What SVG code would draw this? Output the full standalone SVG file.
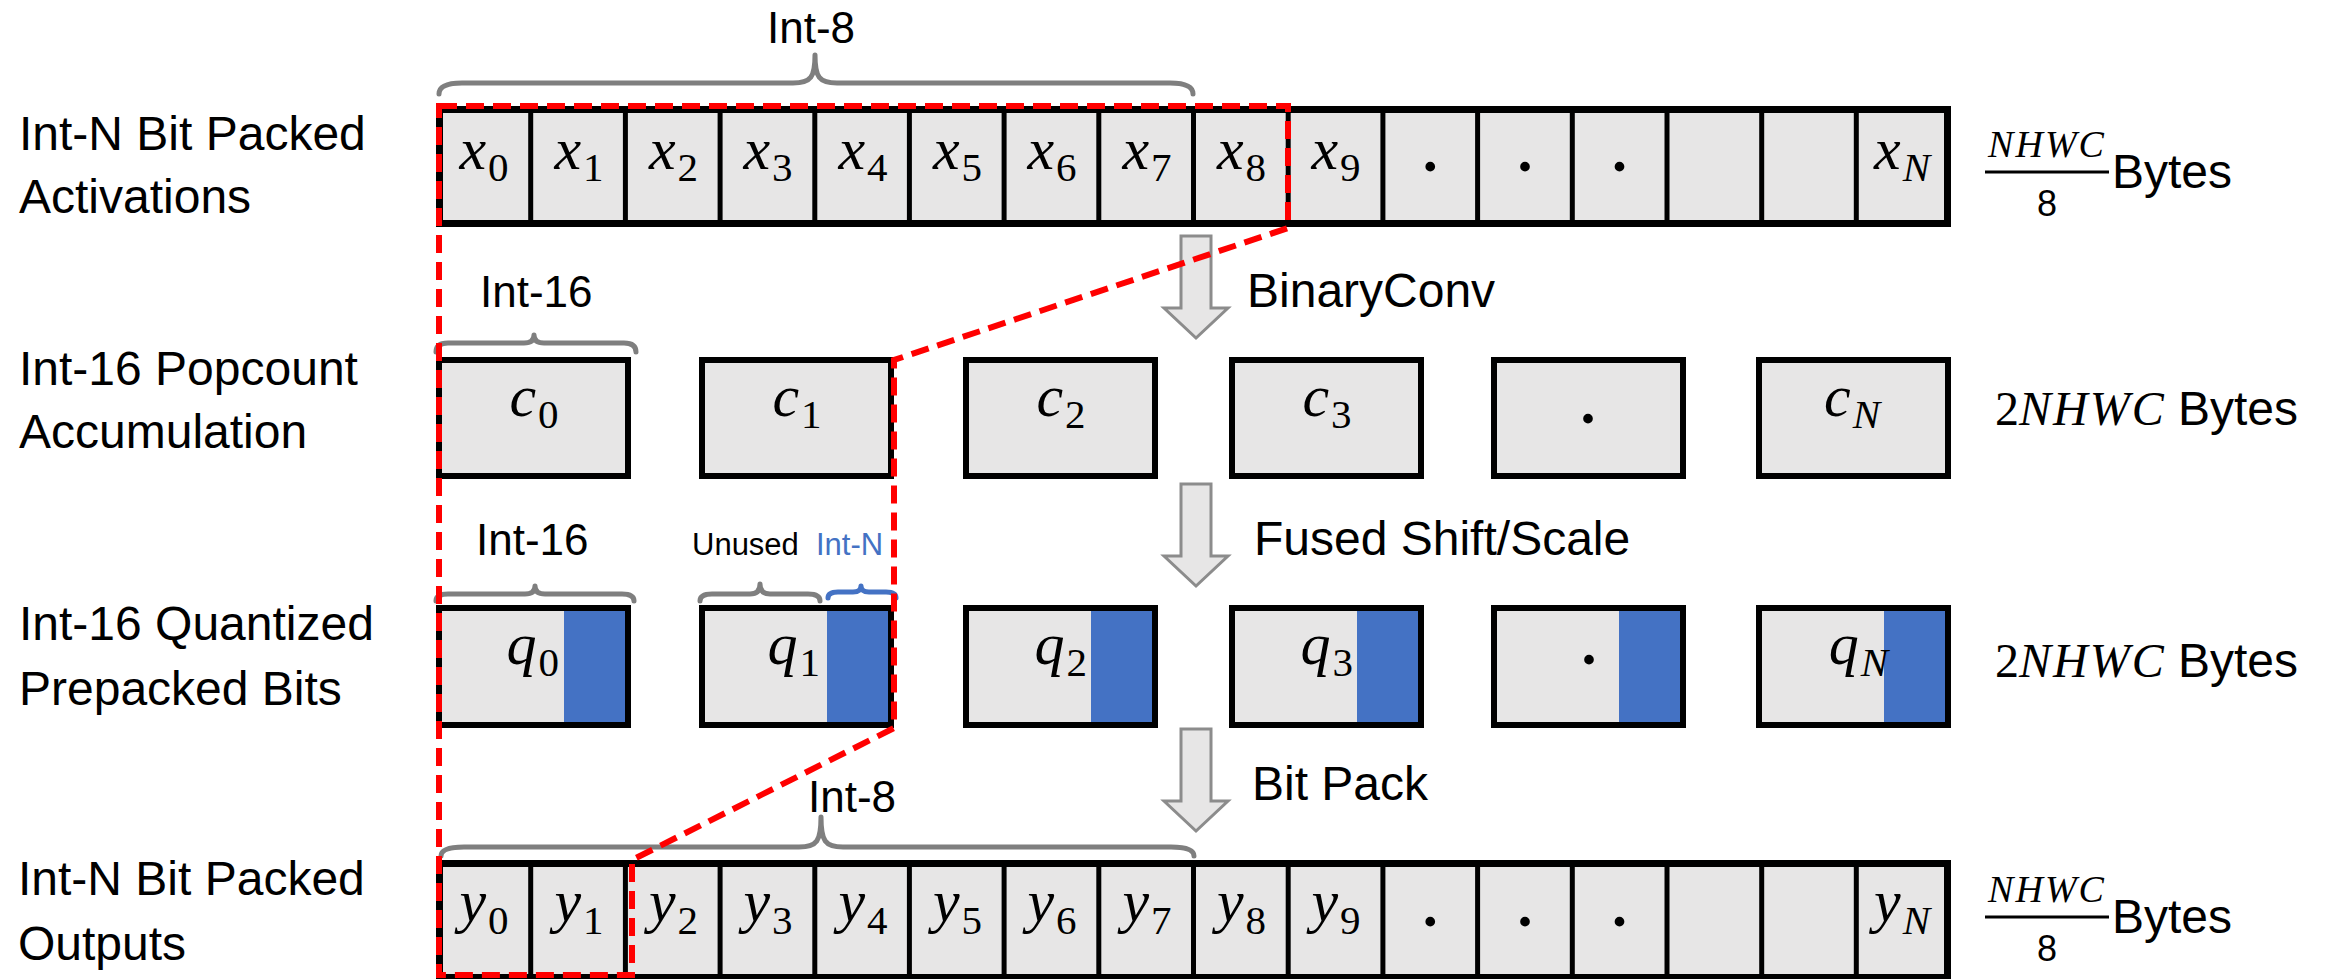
<svg xmlns="http://www.w3.org/2000/svg" width="2352" height="979" viewBox="0 0 2352 979">
<style>
.lbl{font-family:"Liberation Sans",Arial,sans-serif;font-size:48px;fill:#000}
.br{font-family:"Liberation Sans",Arial,sans-serif;font-size:44px;fill:#000}
.sm{font-family:"Liberation Sans",Arial,sans-serif;font-size:31px;fill:#000}
.m{font-family:"Liberation Serif","Times New Roman",serif;font-style:italic;font-size:60px;fill:#000}
.sub{font-size:41px;font-style:normal}
.subi{font-size:41px;font-style:italic}
.dot{font-family:"Liberation Serif",serif;font-size:60px;font-weight:bold;fill:#000}
.bar{fill:#E7E6E6;stroke:#000;stroke-width:7}
.div{stroke:#000;stroke-width:5}
.box{fill:#E7E6E6;stroke:none}
.boxs{fill:none;stroke:#000;stroke-width:6}
.blue{fill:#4472C4}
.brace{fill:none;stroke:#7F7F7F;stroke-width:5;stroke-linecap:round;stroke-linejoin:round}
.braceb{fill:none;stroke:#4472C4;stroke-width:5;stroke-linecap:round;stroke-linejoin:round}
.arrow{fill:#E7E6E6;stroke:#8C8C8C;stroke-width:3}
.red{fill:none;stroke:#FF0000;stroke-width:6;stroke-dasharray:18 9}
.fr{font-family:"Liberation Serif",serif;font-style:italic;font-size:38px;letter-spacing:2px}
.frd{font-family:"Liberation Sans",Arial,sans-serif;font-size:36px}
.mm{font-family:"Liberation Serif",serif;font-size:48px}
</style>
<defs>
<path id="arr" d="M-15,0 H15 V72 H32 L0,102 L-32,72 H-15 Z"/>
</defs>

<!-- Row 1: activations -->
<g id="row-activations">
<text class="lbl" x="19" y="150">Int-N Bit Packed</text>
<text class="lbl" x="19" y="213">Activations</text>
<rect class="bar" x="439.5" y="109.5" width="1508" height="114"/>
<g class="div">
<line x1="530.7" y1="110" x2="530.7" y2="223"/><line x1="625.4" y1="110" x2="625.4" y2="223"/>
<line x1="720.1" y1="110" x2="720.1" y2="223"/><line x1="814.8" y1="110" x2="814.8" y2="223"/>
<line x1="909.4" y1="110" x2="909.4" y2="223"/><line x1="1004.1" y1="110" x2="1004.1" y2="223"/>
<line x1="1098.8" y1="110" x2="1098.8" y2="223"/><line x1="1193.5" y1="110" x2="1193.5" y2="223"/>
<line x1="1288.2" y1="110" x2="1288.2" y2="223"/><line x1="1382.9" y1="110" x2="1382.9" y2="223"/>
<line x1="1477.6" y1="110" x2="1477.6" y2="223"/><line x1="1572.3" y1="110" x2="1572.3" y2="223"/>
<line x1="1667" y1="110" x2="1667" y2="223"/><line x1="1761.7" y1="110" x2="1761.7" y2="223"/>
<line x1="1856.3" y1="110" x2="1856.3" y2="223"/>
</g>
<g class="m" text-anchor="middle">
<text x="484" y="169">x<tspan class="sub" dx="2" dy="12">0</tspan></text>
<text x="579" y="169">x<tspan class="sub" dx="2" dy="12">1</tspan></text>
<text x="673.5" y="169">x<tspan class="sub" dx="2" dy="12">2</tspan></text>
<text x="768" y="169">x<tspan class="sub" dx="2" dy="12">3</tspan></text>
<text x="863" y="169">x<tspan class="sub" dx="2" dy="12">4</tspan></text>
<text x="957.5" y="169">x<tspan class="sub" dx="2" dy="12">5</tspan></text>
<text x="1052" y="169">x<tspan class="sub" dx="2" dy="12">6</tspan></text>
<text x="1147" y="169">x<tspan class="sub" dx="2" dy="12">7</tspan></text>
<text x="1241.5" y="169">x<tspan class="sub" dx="2" dy="12">8</tspan></text>
<text x="1336" y="169">x<tspan class="sub" dx="2" dy="12">9</tspan></text>
<text x="1902" y="169">x<tspan class="subi" dx="2" dy="12">N</tspan></text>
</g>
<g class="dot" text-anchor="middle">
<text x="1430.2" y="171">.</text><text x="1524.9" y="171">.</text><text x="1619.6" y="171">.</text>
</g>
<path class="brace" d="M439,94 Q439,83 462,83 L793,83 C811,83 815,77 815,55 C815,77 819,83 837,83 L1170,83 Q1193,83 1193,94"/>
<text class="br" x="767" y="43">Int-8</text>
<text class="fr" x="2047" y="157" text-anchor="middle">NHWC</text>
<line x1="1985" y1="172" x2="2109" y2="172" stroke="#000" stroke-width="3"/>
<text class="frd" x="2047" y="216" text-anchor="middle">8</text>
<text class="lbl" x="2112" y="188">Bytes</text>
</g>

<!-- Row 2: popcount -->
<g id="row-popcount">
<text class="lbl" x="19" y="385">Int-16 Popcount</text>
<text class="lbl" x="19" y="448">Accumulation</text>
<g>
<rect class="box" x="439" y="360" width="189" height="116"/>
<rect class="box" x="702" y="360" width="189" height="116"/>
<rect class="box" x="966" y="360" width="189" height="116"/>
<rect class="box" x="1232" y="360" width="189" height="116"/>
<rect class="box" x="1494" y="360" width="189" height="116"/>
<rect class="box" x="1759" y="360" width="189" height="116"/>
<rect class="boxs" x="439" y="360" width="189" height="116"/>
<rect class="boxs" x="702" y="360" width="189" height="116"/>
<rect class="boxs" x="966" y="360" width="189" height="116"/>
<rect class="boxs" x="1232" y="360" width="189" height="116"/>
<rect class="boxs" x="1494" y="360" width="189" height="116"/>
<rect class="boxs" x="1759" y="360" width="189" height="116"/>
</g>
<g class="m" text-anchor="middle">
<text x="534" y="416">c<tspan class="sub" dx="2" dy="12">0</tspan></text>
<text x="797" y="416">c<tspan class="sub" dx="2" dy="12">1</tspan></text>
<text x="1061" y="416">c<tspan class="sub" dx="2" dy="12">2</tspan></text>
<text x="1327" y="416">c<tspan class="sub" dx="2" dy="12">3</tspan></text>
<text x="1852" y="416">c<tspan class="subi" dx="2" dy="12">N</tspan></text>
</g>
<text class="dot" x="1588" y="423" text-anchor="middle">.</text>
<path class="brace" d="M436,352 Q436,343 448,343 L524,343 Q534,343 534,335 Q534,343 544,343 L624,343 Q636,343 636,352"/>
<text class="br" x="480" y="307">Int-16</text>
<text class="mm" x="1995" y="425">2<tspan font-style="italic" letter-spacing="2">NHWC</tspan></text>
<text class="lbl" x="2178" y="425">Bytes</text>
</g>

<!-- Row 3: quantized -->
<g id="row-quantized">
<text class="lbl" x="19" y="640">Int-16 Quantized</text>
<text class="lbl" x="19" y="705">Prepacked Bits</text>
<g>
<rect class="box" x="439" y="608" width="189" height="117"/>
<rect class="box" x="702" y="608" width="189" height="117"/>
<rect class="box" x="966" y="608" width="189" height="117"/>
<rect class="box" x="1232" y="608" width="189" height="117"/>
<rect class="box" x="1494" y="608" width="189" height="117"/>
<rect class="box" x="1759" y="608" width="189" height="117"/>
<rect class="blue" x="564" y="611" width="64" height="114"/>
<rect class="blue" x="827" y="611" width="64" height="114"/>
<rect class="blue" x="1091" y="611" width="64" height="114"/>
<rect class="blue" x="1357" y="611" width="64" height="114"/>
<rect class="blue" x="1619" y="611" width="64" height="114"/>
<rect class="blue" x="1884" y="611" width="64" height="114"/>
<rect class="boxs" x="439" y="608" width="189" height="117"/>
<rect class="boxs" x="702" y="608" width="189" height="117"/>
<rect class="boxs" x="966" y="608" width="189" height="117"/>
<rect class="boxs" x="1232" y="608" width="189" height="117"/>
<rect class="boxs" x="1494" y="608" width="189" height="117"/>
<rect class="boxs" x="1759" y="608" width="189" height="117"/>
</g>
<g class="m" text-anchor="end">
<text x="559" y="664">q<tspan class="sub" dx="2" dy="12">0</tspan></text>
<text x="820" y="664">q<tspan class="sub" dx="2" dy="12">1</tspan></text>
<text x="1087" y="664">q<tspan class="sub" dx="2" dy="12">2</tspan></text>
<text x="1353" y="664">q<tspan class="sub" dx="2" dy="12">3</tspan></text>
<text x="1888" y="664">q<tspan class="subi" dx="2" dy="12">N</tspan></text>
</g>
<text class="dot" x="1589" y="664" text-anchor="middle">.</text>
<path class="brace" d="M436,601 Q436,594 448,594 L525,594 Q535,594 535,586 Q535,594 545,594 L622,594 Q634,594 634,601"/>
<path class="brace" d="M700,601 Q700,594 712,594 L750,594 Q760,594 760,584 Q760,594 770,594 L808,594 Q820,594 820,601"/>
<path class="braceb" d="M828,598 Q828,592 838,592 L853,592 Q861,592 861,586 Q861,592 869,592 L886,592 Q896,592 896,598"/>
<text class="br" x="476" y="555">Int-16</text>
<text class="sm" x="692" y="555">Unused</text>
<text class="sm" x="816" y="555" style="fill:#4472C4">Int-N</text>
<text class="mm" x="1995" y="677">2<tspan font-style="italic" letter-spacing="2">NHWC</tspan></text>
<text class="lbl" x="2178" y="677">Bytes</text>
</g>

<!-- Row 4: outputs -->
<g id="row-outputs">
<text class="lbl" x="18" y="895">Int-N Bit Packed</text>
<text class="lbl" x="18" y="960">Outputs</text>
<rect class="bar" x="439.5" y="863.5" width="1508" height="114"/>
<g class="div">
<line x1="530.7" y1="864" x2="530.7" y2="979"/><line x1="625.4" y1="864" x2="625.4" y2="979"/>
<line x1="720.1" y1="864" x2="720.1" y2="979"/><line x1="814.8" y1="864" x2="814.8" y2="979"/>
<line x1="909.4" y1="864" x2="909.4" y2="979"/><line x1="1004.1" y1="864" x2="1004.1" y2="979"/>
<line x1="1098.8" y1="864" x2="1098.8" y2="979"/><line x1="1193.5" y1="864" x2="1193.5" y2="979"/>
<line x1="1288.2" y1="864" x2="1288.2" y2="979"/><line x1="1382.9" y1="864" x2="1382.9" y2="979"/>
<line x1="1477.6" y1="864" x2="1477.6" y2="979"/><line x1="1572.3" y1="864" x2="1572.3" y2="979"/>
<line x1="1667" y1="864" x2="1667" y2="979"/><line x1="1761.7" y1="864" x2="1761.7" y2="979"/>
<line x1="1856.3" y1="864" x2="1856.3" y2="979"/>
</g>
<g class="m" text-anchor="middle">
<text x="484" y="921">y<tspan class="sub" dx="2" dy="13">0</tspan></text>
<text x="579" y="921">y<tspan class="sub" dx="2" dy="13">1</tspan></text>
<text x="673.5" y="921">y<tspan class="sub" dx="2" dy="13">2</tspan></text>
<text x="768" y="921">y<tspan class="sub" dx="2" dy="13">3</tspan></text>
<text x="863" y="921">y<tspan class="sub" dx="2" dy="13">4</tspan></text>
<text x="957.5" y="921">y<tspan class="sub" dx="2" dy="13">5</tspan></text>
<text x="1052" y="921">y<tspan class="sub" dx="2" dy="13">6</tspan></text>
<text x="1147" y="921">y<tspan class="sub" dx="2" dy="13">7</tspan></text>
<text x="1241.5" y="921">y<tspan class="sub" dx="2" dy="13">8</tspan></text>
<text x="1336" y="921">y<tspan class="sub" dx="2" dy="13">9</tspan></text>
<text x="1902" y="921">y<tspan class="subi" dx="2" dy="13">N</tspan></text>
</g>
<g class="dot" text-anchor="middle">
<text x="1430.2" y="926">.</text><text x="1524.9" y="926">.</text><text x="1619.6" y="926">.</text>
</g>
<path class="brace" d="M441,856 Q441,847 464,847 L799,847 C817,847 821,841 821,817 C821,841 825,847 843,847 L1171,847 Q1194,847 1194,856"/>
<text class="br" x="808" y="812">Int-8</text>
<text class="fr" x="2047" y="902" text-anchor="middle">NHWC</text>
<line x1="1985" y1="917" x2="2109" y2="917" stroke="#000" stroke-width="3"/>
<text class="frd" x="2047" y="961" text-anchor="middle">8</text>
<text class="lbl" x="2112" y="933">Bytes</text>
</g>

<!-- Connectors -->
<g id="connectors">
<use href="#arr" class="arrow" transform="translate(1196,236)"/>
<use href="#arr" class="arrow" transform="translate(1196,484)"/>
<use href="#arr" class="arrow" transform="translate(1196,729)"/>
<text class="lbl" x="1247" y="307">BinaryConv</text>
<text class="lbl" x="1254" y="555">Fused Shift/Scale</text>
<text class="lbl" x="1252" y="800">Bit Pack</text>
<path class="red" d="M439,106 L1288,106 L1288,228 L894,360 L894,728 L632,860 L632,975 L439,975 Z"/>
</g>
</svg>
